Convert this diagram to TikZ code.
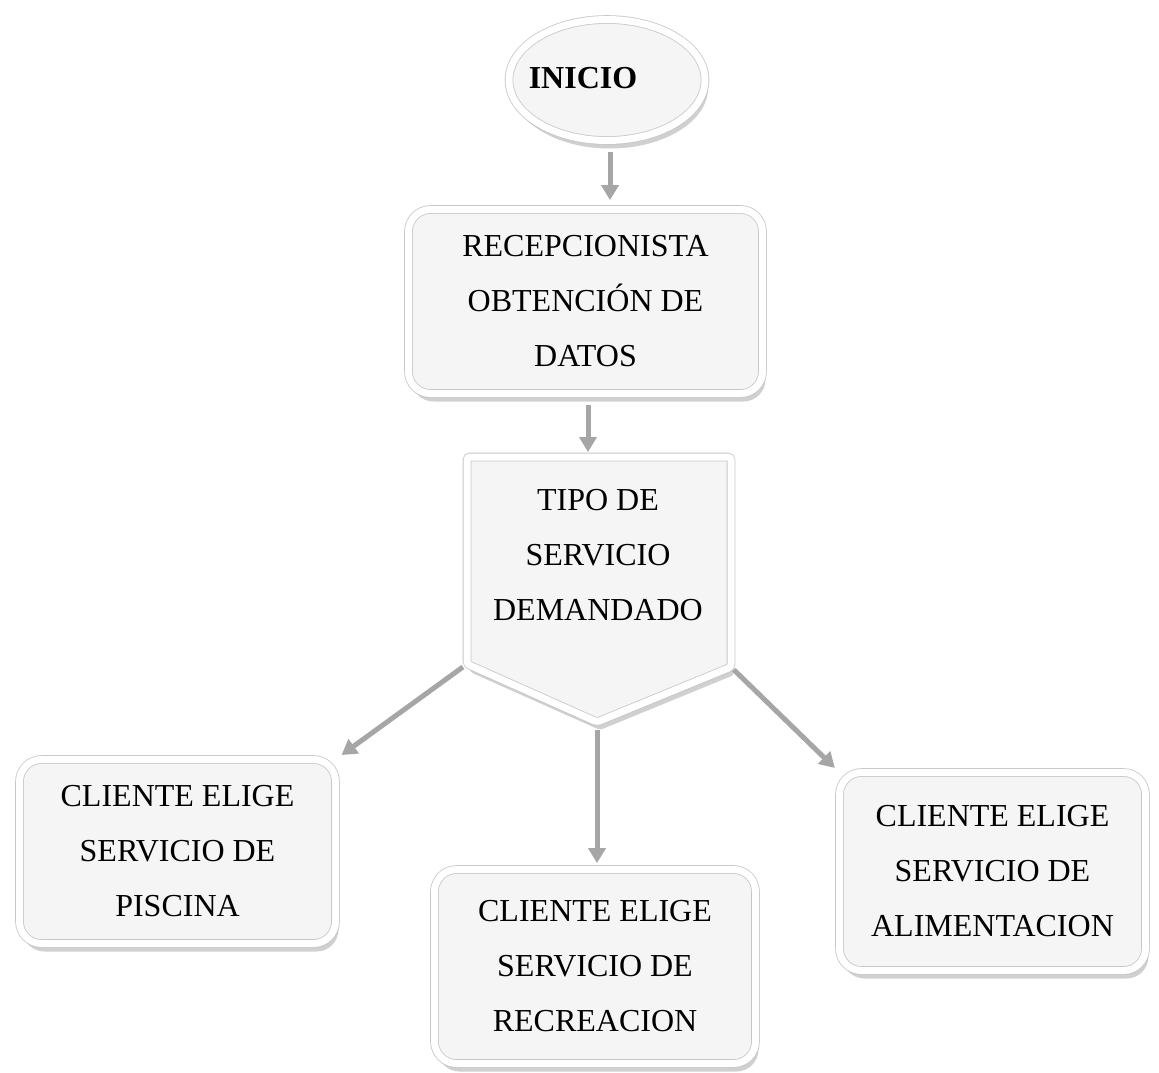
\documentclass[tikz,border=0pt]{standalone}
\usepackage{fontspec}
\setmainfont{Liberation Serif}
\usetikzlibrary{arrows.meta, shadows, positioning, shapes.geometric}

\tikzset{
  marco/.style={draw=black!22, double=white, double distance=7pt, line width=0.8pt,
    fill=black!4, drop shadow={opacity=0.3, shadow xshift=3pt, shadow yshift=-8pt,
    fill=black!60}},
  caja/.style={marco, rectangle, rounded corners=22pt, align=center,
    font=\fontsize{32}{55}\selectfont},
  flecha/.style={draw=black!35, line width=5pt, -{Triangle[length=15pt, width=17pt]}},
}

\begin{document}
\begin{tikzpicture}[x=1pt, y=-1pt]
    \fill[white] (0,0) rectangle (1159,1072);
    \useasboundingbox (0,0) rectangle (1159,1072);
    % inicio
    \node[marco, ellipse, minimum width=196pt, minimum height=121pt,
      font=\fontsize{32}{38}\selectfont\bfseries] (inicio) at (607,80)
      {\raisebox{5pt}{\hspace*{-48pt}INICIO}};
    % recepcion
    \node[caja, minimum width=354pt, minimum height=184pt] (recep) at (585.5,301.5)
      {RECEPCIONISTA\\OBTENCIÓN DE\\DATOS};
    % tipo de servicio
    \coordinate (tipoN) at (588,457);
    \coordinate (tipoI) at (467,664);
    \coordinate (tipoD) at (731,667);
    \coordinate (tipoP) at (597,722);
    \draw[marco, rounded corners=3pt] (467,457) -- (731,457) -- (tipoD) -- (tipoP)
      -- (tipoI) -- cycle;
    \node[align=center, font=\fontsize{32}{55}\selectfont] (tipo) at (598,555)
      {TIPO DE\\SERVICIO\\DEMANDADO};
    % clientes
    \node[caja, minimum width=316pt, minimum height=184pt] (piscina) at (177.5,851.5)
      {CLIENTE ELIGE\\SERVICIO DE\\PISCINA};
    \node[caja, minimum width=321pt, minimum height=194pt] (recreacion) at (595,966.5)
      {CLIENTE ELIGE\\SERVICIO DE\\RECREACION};
    \node[caja, minimum width=306pt, minimum height=198pt] (alimentacion) at (992.5,871.5)
      {CLIENTE ELIGE\\SERVICIO DE\\ALIMENTACION};
    % flechas
    \draw[flecha, shorten <=11pt, shorten >=9pt] ([xshift=3pt]inicio.south) -- ([xshift=3pt]inicio.south |- recep.north);
    \draw[flecha, shorten <=11pt, shorten >=5pt] (recep.south -| tipoN) -- (tipoN);
    \draw[flecha, shorten <=5pt, shorten >=7pt] (tipoI) -- (piscina.north east);
    \draw[flecha, shorten <=8pt, shorten >=6pt] (tipoP) -- (tipoP |- recreacion.north);
    \draw[flecha, shorten <=4pt, shorten >=6pt] (tipoD) -- (alimentacion.north west);
\end{tikzpicture}
\end{document}
